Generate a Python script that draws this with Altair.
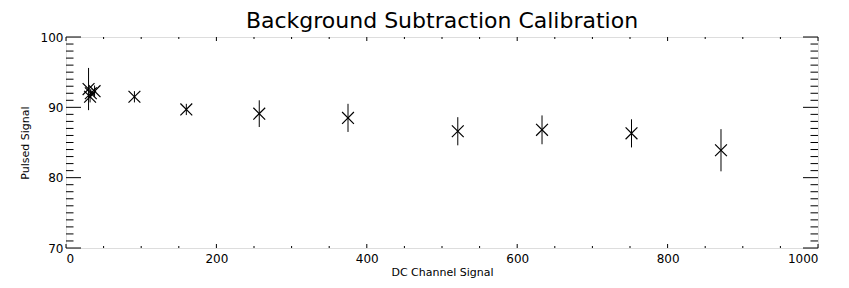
import altair as alt
import pandas as pd

# ---- data ----
dc_signal = [30, 32, 33, 38, 91, 160, 257, 375, 521, 633, 752, 871]
pulsed    = [92.6, 91.5, 92.0, 92.3, 91.5, 89.7, 89.1, 88.5, 86.6, 86.8, 86.3, 83.9]
pulsed_err = [3.0, 0.8, 0.6, 0.8, 0.8, 0.8, 1.9, 2.0, 2.0, 2.05, 2.0, 3.0]

x_major = [0, 200, 400, 600, 800, 1000]
x_minor = [v for v in range(0, 1001, 50) if v % 200 != 0]
y_major = [70, 80, 90, 100]
y_minor = [v for v in range(70, 101) if v % 10 != 0]

W, H = 752, 211
FONT = "DejaVu Sans"

df = pd.DataFrame({"x": dc_signal, "y": pulsed, "err": pulsed_err})
df["lo"] = df["y"] - df["err"]
df["hi"] = df["y"] + df["err"]

xs = alt.Scale(domain=[0, 1000], nice=False, zero=False)
ys = alt.Scale(domain=[70, 100], nice=False, zero=False)

points = alt.Chart(df).mark_point(
    shape="M-1,-1L1,1M-1,1L1,-1", size=140, filled=False,
    color="black", strokeWidth=1.2, opacity=1
).encode(
    x=alt.X("x:Q", scale=xs, axis=alt.Axis(
        values=x_major, format="d", ticks=False, domain=False, grid=False,
        labelFont=FONT, labelFontSize=12, labelColor="black",
        labelPadding=5,
        title="DC Channel Signal", titleFont=FONT, titleFontSize=11,
        titleFontWeight="normal", titleColor="black", titlePadding=2)),
    y=alt.Y("y:Q", scale=ys, axis=alt.Axis(
        values=y_major, format="d", ticks=False, domain=False, grid=False,
        labelFont=FONT, labelFontSize=12, labelColor="black",
        labelPadding=3,
        title="Pulsed Signal", titleFont=FONT, titleFontSize=11,
        titleFontWeight="normal", titleColor="black", titlePadding=10)),
)

errbars = alt.Chart(df).mark_rule(color="black", strokeWidth=1).encode(
    x=alt.X("x:Q", scale=xs),
    y=alt.Y("lo:Q", scale=ys),
    y2="hi:Q",
)

layers = [points, errbars]

def xticks(vals, length):
    d = pd.DataFrame({"v": vals})
    bottom = alt.Chart(d).mark_rule(color="black", strokeWidth=1).encode(
        x=alt.X("v:Q", scale=xs), y=alt.value(H), y2=alt.value(H - length))
    top = alt.Chart(d).mark_rule(color="black", strokeWidth=1).encode(
        x=alt.X("v:Q", scale=xs), y=alt.value(0), y2=alt.value(length))
    return [bottom, top]

def yticks(vals, length):
    d = pd.DataFrame({"v": vals})
    left = alt.Chart(d).mark_rule(color="black", strokeWidth=1).encode(
        y=alt.Y("v:Q", scale=ys), x=alt.value(0), x2=alt.value(length))
    right = alt.Chart(d).mark_rule(color="black", strokeWidth=1).encode(
        y=alt.Y("v:Q", scale=ys), x=alt.value(W), x2=alt.value(W - length))
    return [left, right]

layers += xticks(x_major, 4) + xticks(x_minor, 2)
layers += yticks(y_major, 15) + yticks(y_minor, 7.5)

chart = alt.layer(*layers).properties(
    width=W, height=H,
    title=alt.TitleParams("Background Subtraction Calibration", font=FONT,
                          fontSize=22, fontWeight="normal", color="black",
                          anchor="middle", offset=-2),
    autosize=alt.AutoSizeParams(type="none"),
    padding={"left": 58, "top": 29, "right": 21, "bottom": 32},
).configure_view(stroke="black", strokeWidth=1).configure(background="white")

chart.save("out.html", embed_options={"renderer": "svg", "actions": False})
